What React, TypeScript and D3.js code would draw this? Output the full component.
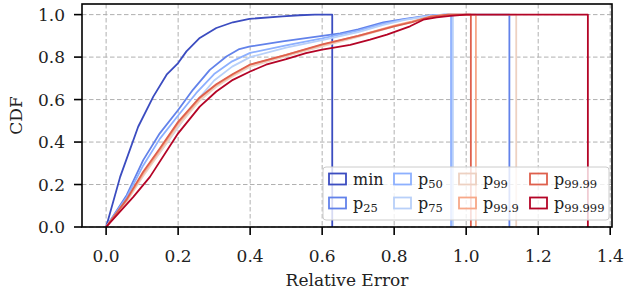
import React from "react";
import * as d3 from "d3";

const seriesNames = ["min", "p25", "p50", "p75", "p99", "p99.9", "p99.99", "p99.999"];
const seriesColors = ["#3b4cc0", "#6282ea", "#8db0fe", "#b8d0f9", "#edd1c2", "#f7a889", "#de604d", "#b40426"];
const seriesMax = [0.628, 1.12, 0.958, 0.963, 1.139, 1.027, 1.013, 1.338];

const minCurve: [number, number][] = [[0, 0], [0.039, 0.236], [0.089, 0.472], [0.131, 0.614], [0.168, 0.717], [0.2, 0.772], [0.223, 0.827], [0.26, 0.89], [0.306, 0.937], [0.352, 0.964], [0.398, 0.98], [0.49, 0.992], [0.536, 0.997], [0.58, 1.0]];
const p25Curve: [number, number][] = [[0, 0], [0.057, 0.15], [0.103, 0.315], [0.149, 0.441], [0.2, 0.551], [0.241, 0.646], [0.288, 0.74], [0.334, 0.803], [0.37, 0.838], [0.4, 0.85], [0.49, 0.874], [0.6, 0.9], [0.65, 0.912], [0.7, 0.93], [0.77, 0.963], [0.83, 0.98], [0.9, 0.996], [0.94, 1.0]];
const p50Curve: [number, number][] = [[0, 0], [0.057, 0.14], [0.103, 0.29], [0.149, 0.415], [0.2, 0.525], [0.25, 0.63], [0.3, 0.72], [0.35, 0.78], [0.4, 0.82], [0.5, 0.855], [0.6, 0.888], [0.7, 0.925], [0.77, 0.958], [0.83, 0.978], [0.9, 0.995], [0.94, 1.0]];
const p75Curve: [number, number][] = [[0, 0], [0.057, 0.125], [0.103, 0.25], [0.149, 0.35], [0.2, 0.47], [0.25, 0.59], [0.3, 0.69], [0.35, 0.755], [0.4, 0.8], [0.5, 0.845], [0.6, 0.88], [0.7, 0.918], [0.77, 0.952], [0.83, 0.975], [0.9, 0.994], [0.94, 1.0]];
const p99Curve: [number, number][] = [[0, 0], [0.057, 0.12], [0.103, 0.24], [0.149, 0.35], [0.2, 0.475], [0.26, 0.595], [0.306, 0.66], [0.352, 0.71], [0.4, 0.755], [0.5, 0.805], [0.6, 0.85], [0.7, 0.895], [0.8, 0.945], [0.85, 0.965], [0.9, 0.99], [0.95, 1.0]];
const p999Curve: [number, number][] = [[0, 0], [0.057, 0.126], [0.103, 0.252], [0.149, 0.362], [0.2, 0.488], [0.26, 0.606], [0.306, 0.669], [0.352, 0.717], [0.4, 0.764], [0.5, 0.811], [0.6, 0.858], [0.7, 0.9], [0.8, 0.948], [0.85, 0.968], [0.9, 0.99], [0.95, 1.0]];
const p9999Curve: [number, number][] = [[0, 0], [0.057, 0.13], [0.103, 0.26], [0.149, 0.37], [0.2, 0.495], [0.26, 0.61], [0.306, 0.672], [0.352, 0.72], [0.4, 0.765], [0.5, 0.81], [0.6, 0.86], [0.7, 0.9], [0.8, 0.945], [0.85, 0.965], [0.9, 0.99], [0.95, 1.0]];
const p99999Curve: [number, number][] = [[0, 0], [0.0756, 0.142], [0.1217, 0.236], [0.2, 0.441], [0.26, 0.567], [0.306, 0.638], [0.352, 0.693], [0.4, 0.732], [0.444, 0.764], [0.5, 0.79], [0.555, 0.819], [0.6, 0.835], [0.678, 0.858], [0.733, 0.882], [0.78, 0.906], [0.844, 0.945], [0.881, 0.976], [0.918, 0.987], [0.956, 0.994], [1.0, 1.0]];
const curves = [minCurve, p25Curve, p50Curve, p75Curve, p99Curve, p999Curve, p9999Curve, p99999Curve];

const xTicks = [0.0, 0.2, 0.4, 0.6, 0.8, 1.0, 1.2, 1.4];
const yTicks = [0.0, 0.2, 0.4, 0.6, 0.8, 1.0];

const W = 625, H = 291;
const L = 82, R = 612, T = 4, B = 227;
const FONT = "'DejaVu Serif', serif";

export default function App() {
  const x = d3.scaleLinear().domain([-0.067, 1.405]).range([L, R]);
  const y = d3.scaleLinear().domain([0, 1.05]).range([B, T]);
  const line = d3.line<[number, number]>().x(d => x(d[0])).y(d => y(d[1]));

  const legendX = 323, legendY = 167, legendW = 286, legendH = 53;
  const colX = [6, 71, 136, 207];
  const rowY = [12, 36];

  const renderLabel = (name: string) => {
    if (name === "min") return <tspan>min</tspan>;
    const sub = name.slice(1);
    return (
      <>
        <tspan>p</tspan>
        <tspan fontSize={11.5} dy={3}>{sub}</tspan>
      </>
    );
  };

  return (
    <svg width={W} height={H} style={{ display: "block", position: "absolute", left: 0, top: 0 }}>
      <rect x={0} y={0} width={W} height={H} fill="#fff" />
      {/* grid */}
      {xTicks.map(t => (
        <line key={"gx" + t} x1={x(t)} x2={x(t)} y1={T} y2={B} stroke="#b0b0b0" strokeWidth={1} strokeDasharray="4.5,2.5" />
      ))}
      {yTicks.map(t => (
        <line key={"gy" + t} x1={L} x2={R} y1={y(t)} y2={y(t)} stroke="#b0b0b0" strokeWidth={1} strokeDasharray="4.5,2.5" />
      ))}
      {/* curves */}
      <g clipPath="url(#clip)">
        {curves.map((c, i) => {
          const pts: [number, number][] = [...c, [seriesMax[i], 1.0], [seriesMax[i], 0]];
          return <path key={seriesNames[i]} d={line(pts) || ""} fill="none" stroke={seriesColors[i]} strokeWidth={1.8} strokeLinejoin="round" />;
        })}
      </g>
      <defs>
        <clipPath id="clip"><rect x={L} y={T} width={R - L} height={B - T} /></clipPath>
      </defs>
      {/* legend */}
      <g transform={`translate(${legendX},${legendY})`}>
        <rect x={0} y={0} width={legendW} height={legendH} rx={3} fill="#fff" fillOpacity={0.8} stroke="#cccccc" strokeWidth={1} />
        {seriesNames.map((n, i) => {
          const col = Math.floor(i / 2), row = i % 2;
          const hx = colX[col], hy = rowY[row];
          return (
            <g key={"lg" + n}>
              <rect x={hx} y={hy - 5.5} width={17} height={11} fill="none" stroke={seriesColors[i]} strokeWidth={1.8} />
              <text x={hx + 24} y={hy + 5.5} fontFamily={FONT} fontSize={16} fill="#222">{renderLabel(n)}</text>
            </g>
          );
        })}
      </g>
      {/* axes spines */}
      <rect x={L} y={T} width={R - L} height={B - T} fill="none" stroke="#000" strokeWidth={1.6} />
      {xTicks.map(t => (
        <g key={"xt" + t}>
          <line x1={x(t)} x2={x(t)} y1={B} y2={B + 8} stroke="#000" strokeWidth={1.6} />
          <text x={x(t)} y={262} textAnchor="middle" fontFamily={FONT} fontSize={17} fill="#222">{t.toFixed(1)}</text>
        </g>
      ))}
      {yTicks.map(t => (
        <g key={"yt" + t}>
          <line x1={L - 8} x2={L} y1={y(t)} y2={y(t)} stroke="#000" strokeWidth={1.6} />
          <text x={65} y={y(t) + 6} textAnchor="end" fontFamily={FONT} fontSize={17} fill="#222">{t.toFixed(1)}</text>
        </g>
      ))}
      <text x={(L + R) / 2} y={286} textAnchor="middle" fontFamily={FONT} fontSize={17} fill="#222">Relative Error</text>
      <text transform={`translate(22,${(T + B) / 2}) rotate(-90)`} textAnchor="middle" fontFamily={FONT} fontSize={17} fill="#222">CDF</text>
    </svg>
  );
}
